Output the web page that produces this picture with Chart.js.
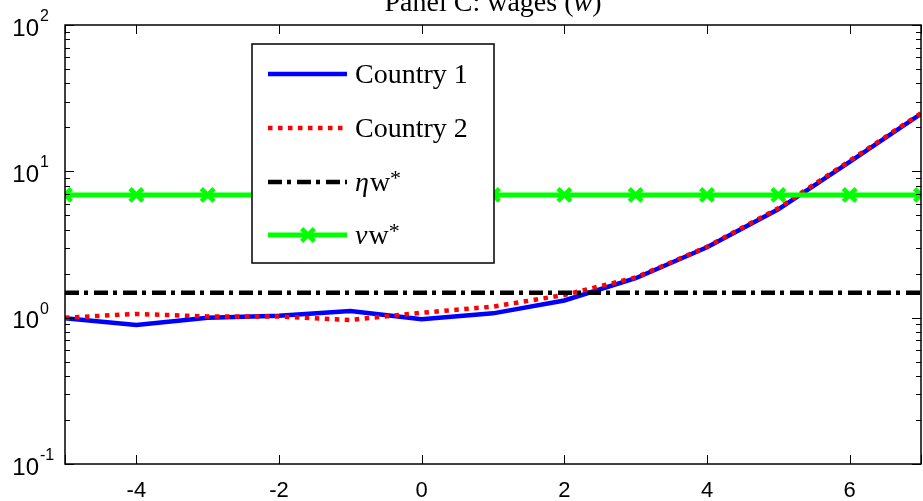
<!DOCTYPE html>
<html lang="en">
<head>
  <meta charset="UTF-8">
  <title>Panel C: wages</title>
  <style>
    html, body { margin:0; padding:0; background:#fff; overflow:hidden; }
    canvas { display:block; }
  </style>
</head>
<body>
  <canvas id="wages-chart" width="923" height="501"></canvas>

  <script src="https://cdn.jsdelivr.net/npm/chart.js"></script>
  <script>
    // periods and wage paths (log scale)
    const periods  = [-5, -4, -3, -2, -1, 0, 1, 2, 3, 4, 5, 6, 7];
    const country1 = [0.99, 0.89, 1.00, 1.03, 1.11, 0.975, 1.07, 1.31, 1.86, 3.03, 5.5, 11.6, 24.7];
    const country2 = [1.00, 1.06, 1.02, 1.02, 0.965, 1.08, 1.19, 1.43, 1.88, 3.05, 5.6, 11.8, 25.0];
    const etaW     = [1.48, 1.48, 1.48, 1.48, 1.48, 1.48, 1.48, 1.48, 1.48, 1.48, 1.48, 1.48, 1.48];
    const nuW      = [6.9, 6.9, 6.9, 6.9, 6.9, 6.9, 6.9, 6.9, 6.9, 6.9, 6.9, 6.9, 6.9];

    const xTicks    = [-5, -4, -2, 0, 2, 4, 6, 7];
    const xLabels   = [-4, -2, 0, 2, 4, 6];
    const yDecades  = [0.1, 1, 10, 100];
    const yExps     = ['-1', '0', '1', '2'];
    const titleText = 'Panel C: wages (';

    const pts = vals => periods.map((p, i) => ({ x: p, y: vals[i] }));

    const SANS  = '"Liberation Sans", Arial, sans-serif';
    const SERIF = '"Liberation Serif", "Times New Roman", serif';

    // axes box, inward ticks, labels, title and boxed legend
    const framePlugin = {
      id: 'frame',
      afterDatasetsDraw(chart) {
        const ctx = chart.ctx;
        const ds = chart.data.datasets;
        const bx = 252, by = 44, bw = 242, bh = 219;
        ctx.save();
        ctx.fillStyle = '#fff';
        ctx.fillRect(bx, by, bw, bh);
        ctx.strokeStyle = '#000';
        ctx.lineWidth = 1.5;
        ctx.strokeRect(bx, by, bw, bh);

        const rows = [74, 128, 182, 235];
        rows.forEach((ry, i) => {
          const d = ds[i];
          ctx.beginPath();
          ctx.setLineDash(d.borderDash || []);
          ctx.strokeStyle = d.borderColor;
          ctx.lineWidth = d.borderWidth;
          ctx.moveTo(268, ry);
          ctx.lineTo(347, ry);
          ctx.stroke();
          ctx.setLineDash([]);
          if (d.pointRadius > 0) {
            ctx.strokeStyle = d.pointBorderColor;
            ctx.fillStyle = d.pointBackgroundColor;
            ctx.lineWidth = d.pointBorderWidth;
            Chart.helpers.drawPoint(ctx, {
              pointStyle: d.pointStyle, radius: d.pointRadius,
              borderWidth: d.pointBorderWidth, rotation: 0
            }, 308, ry);
          }
        });

        ctx.fillStyle = '#000';
        ctx.textBaseline = 'alphabetic';
        ctx.textAlign = 'left';
        ctx.font = '28px ' + SERIF;
        ctx.fillText('Country 1', 355, rows[0] + 9);
        ctx.fillText('Country 2', 355, rows[1] + 9);

        // η w* and ν w*
        [['η', rows[2]], ['ν', rows[3]]].forEach(([g, ry]) => {
          let x = 355;
          ctx.font = 'italic 28px ' + SERIF;
          ctx.fillText(g, x, ry + 9);
          x += ctx.measureText(g).width + 1;
          ctx.font = '28px ' + SERIF;
          ctx.fillText('w', x, ry + 9);
          x += ctx.measureText('w').width;
          ctx.font = '22px ' + SERIF;
          ctx.fillText('*', x, ry + 3);
        });
        ctx.restore();
      },
      afterDraw(chart) {
        const ctx = chart.ctx;
        const { left, right, top, bottom } = chart.chartArea;
        const xs = chart.scales.x, ys = chart.scales.y;
        ctx.save();
        ctx.strokeStyle = '#000';
        ctx.lineWidth = 1.5;
        ctx.strokeRect(left, top, right - left, bottom - top);

        ctx.lineWidth = 1;
        ctx.beginPath();
        xTicks.forEach(v => {
          const px = Math.round(xs.getPixelForValue(v)) + 0.5;
          ctx.moveTo(px, bottom); ctx.lineTo(px, bottom - 9);
          ctx.moveTo(px, top); ctx.lineTo(px, top + 9);
        });
        yDecades.forEach((dec, i) => {
          const py = Math.round(ys.getPixelForValue(dec)) + 0.5;
          ctx.moveTo(left, py); ctx.lineTo(left + 9, py);
          ctx.moveTo(right, py); ctx.lineTo(right - 9, py);
          if (i < yDecades.length - 1) {
            for (let m = 2; m <= 9; m++) {
              const my = Math.round(ys.getPixelForValue(dec * m)) + 0.5;
              ctx.moveTo(left, my); ctx.lineTo(left + 5, my);
              ctx.moveTo(right, my); ctx.lineTo(right - 5, my);
            }
          }
        });
        ctx.stroke();

        // tick labels
        ctx.fillStyle = '#000';
        ctx.textBaseline = 'alphabetic';
        ctx.font = '22px ' + SANS;
        ctx.textAlign = 'center';
        xLabels.forEach(v => ctx.fillText(String(v), xs.getPixelForValue(v), 497));

        yDecades.forEach((dec, i) => {
          const py = ys.getPixelForValue(dec);
          ctx.font = '24px ' + SANS;
          ctx.textAlign = 'right';
          ctx.fillText('10', 39, py + 10.5);
          ctx.font = '16px ' + SANS;
          ctx.textAlign = 'left';
          ctx.fillText(yExps[i], 40, py - 4);
        });

        // title, with italic w
        const tf = '28px ' + SERIF;
        ctx.font = tf;
        const w1 = ctx.measureText(titleText).width;
        ctx.font = 'italic ' + tf;
        const w2 = ctx.measureText('w').width;
        ctx.font = tf;
        const w3 = ctx.measureText(')').width;
        let tx = (left + right) / 2 - (w1 + w2 + w3) / 2;
        ctx.textAlign = 'left';
        ctx.fillText(titleText, tx, 11);
        tx += w1;
        ctx.font = 'italic ' + tf;
        ctx.fillText('w', tx, 11);
        tx += w2;
        ctx.font = tf;
        ctx.fillText(')', tx, 11);
        ctx.restore();
      }
    };

    new Chart(document.getElementById('wages-chart'), {
      type: 'line',
      data: {
        datasets: [
          { label: 'Country 1', data: pts(country1), borderColor: '#0000ff', borderWidth: 4.5,
            pointRadius: 0, tension: 0, order: 4 },
          { label: 'Country 2', data: pts(country2), borderColor: '#ff0000', borderWidth: 4.5,
            borderDash: [4.5, 5.5], pointRadius: 0, tension: 0, order: 3 },
          { label: 'ηw*', data: pts(etaW), borderColor: '#000000', borderWidth: 4.5,
            borderDash: [14, 5, 4, 6], pointRadius: 0, tension: 0, order: 2 },
          { label: 'νw*', data: pts(nuW), borderColor: '#00ff00', borderWidth: 5,
            pointStyle: 'crossRot', pointRadius: 9, pointBorderWidth: 4.5,
            pointBorderColor: '#00ff00', pointBackgroundColor: '#00ff00', tension: 0, order: 1 }
        ]
      },
      options: {
        responsive: false,
        animation: false,
        events: [],
        layout: { autoPadding: false, padding: { left: 65, right: 2, top: 25, bottom: 37 } },
        plugins: { legend: { display: false }, tooltip: { enabled: false }, title: { display: false } },
        scales: {
          x: { type: 'linear', min: -5, max: 7, display: false },
          y: { type: 'logarithmic', min: 0.1, max: 100, display: false }
        }
      },
      plugins: [framePlugin]
    });
  </script>
</body>
</html>
